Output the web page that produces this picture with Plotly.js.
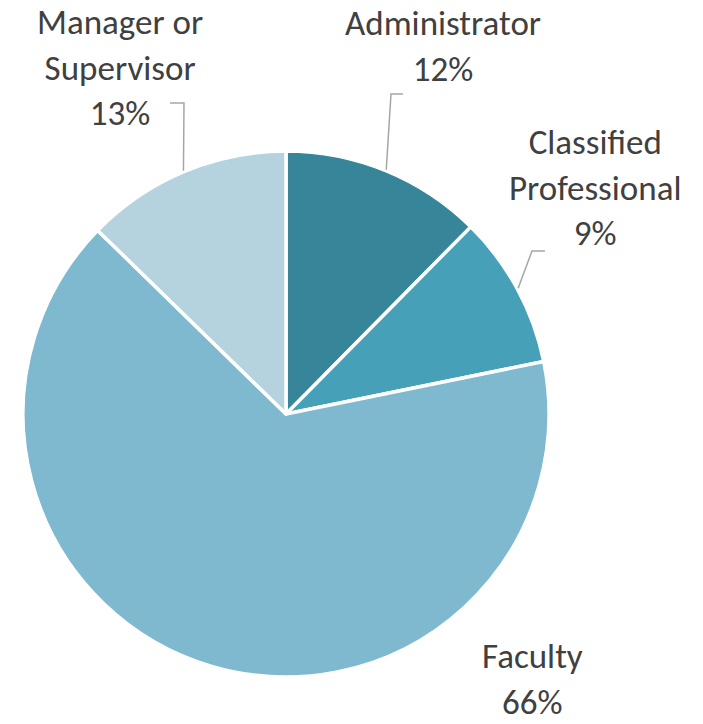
<!DOCTYPE html>
<html>
<head>
<meta charset="utf-8">
<script src="https://cdn.plot.ly/plotly-3.0.1.min.js"></script>
<style>html,body{margin:0;padding:0;background:#fff;}#chart{width:703px;height:724px;}</style>
</head>
<body>
<div id="chart"></div>
<script>
// ---- data ----
var categories = ["Administrator", "Classified Professional", "Faculty", "Manager or Supervisor"];
var labelLines = [["Administrator"], ["Classified", "Professional"], ["Faculty"], ["Manager or", "Supervisor"]];
var values = [12.4, 9.4, 65.5, 12.7];
var colors = ["#378598", "#46A1B8", "#7EB9CF", "#B5D3DE"];

// ---- layout constants (pixels) ----
var W = 703, H = 724;
var cx = 286, cy = 414, R = 263;
// label centres and leader elbows (pixels); null = no leader line
var labelPos = [[443, 46], [595, 187], [532, 679], [120, 68]];
var elbows = [[[391, 94], [403, 94]], [[532, 251], [545, 251]], null, [[184, 103], [170, 103]]];

function px(x) { return x / W; }
function py(y) { return 1 - y / H; }

var total = values.reduce(function (a, b) { return a + b; }, 0);
var annotations = [];
var shapes = [];
var cum = 0;
for (var i = 0; i < values.length; i++) {
  var mid = (cum + values[i] / 2) / total * 2 * Math.PI;
  cum += values[i];
  var pct = Math.round(values[i] / total * 100) + "%";
  annotations.push({
    xref: "paper", yref: "paper",
    x: px(labelPos[i][0]), y: py(labelPos[i][1]),
    xanchor: "center", yanchor: "middle",
    text: labelLines[i].concat([pct]).join("<br>"),
    showarrow: false,
    align: "center",
    borderpad: 0,
    font: {family: "Carlito, Lato, sans-serif", size: 35, color: "#404040"}
  });
  if (elbows[i]) {
    var ax = cx + (R + 1) * Math.sin(mid);
    var ay = cy - (R + 1) * Math.cos(mid);
    var p = "M " + px(ax) + "," + py(ay) +
            " L " + px(elbows[i][0][0]) + "," + py(elbows[i][0][1]) +
            " L " + px(elbows[i][1][0]) + "," + py(elbows[i][1][1]);
    shapes.push({type: "path", xref: "paper", yref: "paper", path: p,
                 line: {color: "#A6A6A6", width: 1.5}});
  }
}

var trace = {
  type: "pie",
  labels: categories,
  values: values,
  sort: false,
  direction: "clockwise",
  rotation: 0,
  textinfo: "none",
  hoverinfo: "label+percent",
  marker: {colors: colors, line: {color: "#FFFFFF", width: 3.5}},
  domain: {x: [px(cx - R), px(cx + R)], y: [py(cy + R), py(cy - R)]},
  showlegend: false
};

var layout = {
  width: W, height: H,
  margin: {l: 0, r: 0, t: 0, b: 0},
  paper_bgcolor: "#FFFFFF",
  plot_bgcolor: "#FFFFFF",
  showlegend: false,
  annotations: annotations,
  shapes: shapes
};

Plotly.newPlot("chart", [trace], layout, {staticPlot: true, displayModeBar: false});
</script>
</body>
</html>
